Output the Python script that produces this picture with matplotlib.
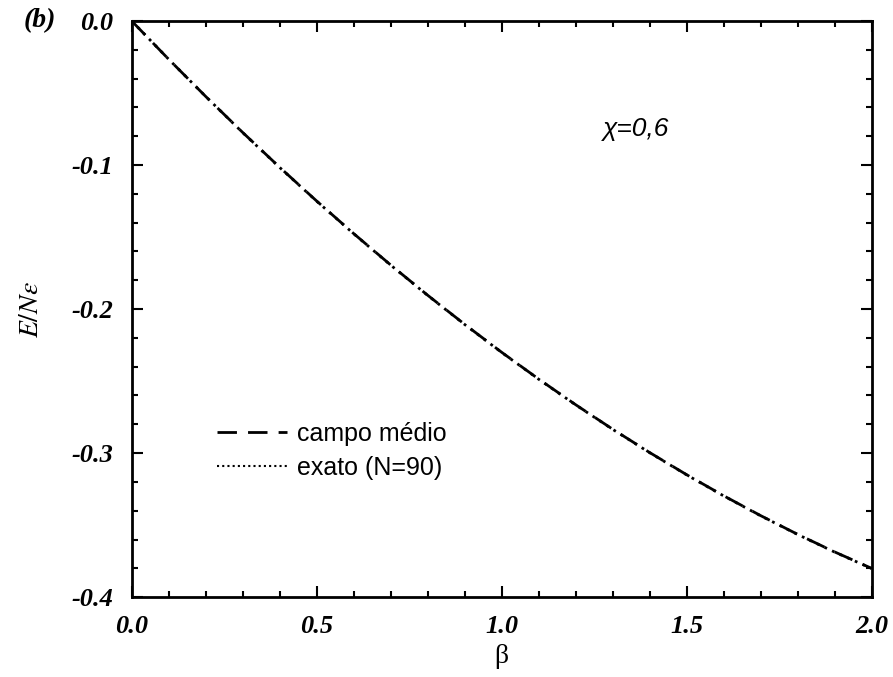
import numpy as np
import matplotlib
matplotlib.use('Agg')
import matplotlib.pyplot as plt
from matplotlib.ticker import MultipleLocator, FormatStrFormatter
from matplotlib.lines import Line2D
from matplotlib.font_manager import FontProperties

plt.rcParams['mathtext.fontset'] = 'stix'

# energia por particula em funcao de beta (chi = 0,6)
beta = [0.0, 0.1, 0.2, 0.3, 0.4, 0.5, 0.6, 0.7, 0.8, 0.9, 1.0,
        1.1, 1.2, 1.3, 1.4, 1.5, 1.6, 1.7, 1.8, 1.9, 2.0]
e_campo_medio = [0.0, -0.0266, -0.0524, -0.0774, -0.1016, -0.1250, -0.1476,
                 -0.1694, -0.1904, -0.2106, -0.2300, -0.2486, -0.2664, -0.2834,
                 -0.2996, -0.3150, -0.3296, -0.3434, -0.3564, -0.3686, -0.3800]
e_exato = [0.0, -0.0266, -0.0524, -0.0775, -0.1017, -0.1251, -0.1477,
           -0.1695, -0.1905, -0.2107, -0.2301, -0.2487, -0.2665, -0.2835,
           -0.2997, -0.3151, -0.3297, -0.3435, -0.3565, -0.3687, -0.3801]

fig = plt.figure(figsize=(8.93, 6.77), dpi=100)
ax = fig.add_axes([0.1475, 0.118, 0.8285, 0.851])

ax.plot(beta, e_campo_medio, color='black', lw=2.0, ls=(0, (7, 4)))
ax.plot(beta, e_exato, color='black', lw=2.0, ls=(0, (1, 2)))

ax.set_xlim(0, 2.0)
ax.set_ylim(-0.4, 0.0)

ax.xaxis.set_major_locator(MultipleLocator(0.5))
ax.xaxis.set_minor_locator(MultipleLocator(0.1))
ax.yaxis.set_major_locator(MultipleLocator(0.1))
ax.yaxis.set_minor_locator(MultipleLocator(0.02))
ax.xaxis.set_major_formatter(FormatStrFormatter('%.1f'))
ax.yaxis.set_major_formatter(FormatStrFormatter('%.1f'))

ax.tick_params(which='both', direction='in', top=True, right=True, width=1.5)
ax.tick_params(which='major', length=8, pad=13)
ax.tick_params(which='minor', length=4)
for s in ax.spines.values():
    s.set_linewidth(2)

tickfont = dict(family='Liberation Serif', style='italic', weight='bold', size=19)
for lab in ax.get_xticklabels() + ax.get_yticklabels():
    lab.set_fontproperties(FontProperties(**tickfont))

ax.set_xlabel('β', family='Liberation Serif', fontsize=20, labelpad=4)
ax.set_ylabel('$E/N\\epsilon$', fontsize=20, labelpad=20)

fig.text(0.026, 0.970, '(b)', ha='left', va='center',
         family='Liberation Serif', style='italic', weight='bold', size=20)
ax.text(0.637, 0.80, 'χ=0,6', transform=ax.transAxes, family='Liberation Sans',
        style='italic', fontsize=19)

handles = [Line2D([], [], color='black', lw=2.0, ls=(0, (7, 4))),
           Line2D([], [], color='black', lw=1.5, ls=(0, (1, 1.5)))]
ax.legend(handles, ['campo médio', 'exato (N=90)'], loc='lower left',
          bbox_to_anchor=(0.085, 0.165), frameon=False, handlelength=2.8,
          handletextpad=0.4, labelspacing=0.4,
          prop=dict(family='Liberation Sans', size=18))

fig.savefig('out.png', dpi=100)
